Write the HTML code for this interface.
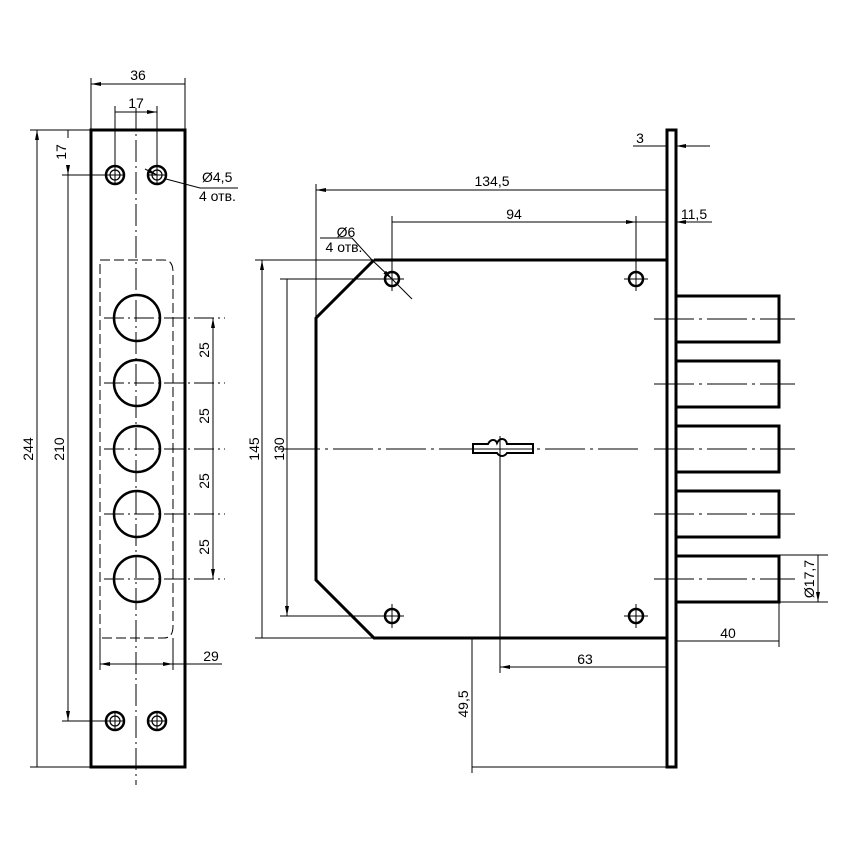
<!DOCTYPE html>
<html><head><meta charset="utf-8"><style>body{margin:0;background:#fff}svg{display:block}text{font-family:"Liberation Sans",sans-serif;font-size:14px;fill:#000}</style></head><body>
<svg width="848" height="848" viewBox="0 0 848 848" xmlns="http://www.w3.org/2000/svg">
<defs><marker id="a" viewBox="0 0 10 4" refX="10" refY="2" markerWidth="10" markerHeight="4" orient="auto-start-reverse" markerUnits="userSpaceOnUse"><path d="M0,0L10,2L0,4z" fill="#000"/></marker></defs>
<g fill="none" stroke="#000">
<rect x="91" y="130" width="94" height="637" stroke-width="3"/>
<line x1="136" y1="108" x2="136" y2="785" stroke-width="1" stroke-dasharray="22,4,2,4"/>
<path d="M100,638V260H164Q173,260 173,272V626Q173,638 164,638H100" stroke-width="1" stroke-dasharray="10,4"/>
<g stroke-width="2.5">
<circle cx="115" cy="175" r="9"/><circle cx="157" cy="175" r="9"/><circle cx="115" cy="721" r="9"/><circle cx="157" cy="721" r="9"/></g>
<g stroke-width="1.2"><circle cx="115" cy="175" r="5"/><circle cx="157" cy="175" r="5"/><circle cx="115" cy="721" r="5"/><circle cx="157" cy="721" r="5"/></g>
<g stroke-width="2.5">
<circle cx="137" cy="318" r="23"/><circle cx="137" cy="383" r="23"/><circle cx="137" cy="449" r="23"/><circle cx="137" cy="514" r="23"/><circle cx="137" cy="579" r="23"/></g>
<g stroke-width="1">
<path d="M104,318H225M104,383H225M104,449H225M104,514H225M104,579H225" stroke-dasharray="20,4,2,4"/>
<path d="M213,318V383M213,383V449M213,449V514M213,514V579" marker-start="url(#a)" marker-end="url(#a)"/>
<path d="M91,130V78M185,130V78M115,175V106M157,175V106"/>
<path d="M91,84H185M115,112H157" marker-start="url(#a)" marker-end="url(#a)"/>
<path d="M30,130H91M30,767H91M62,175H106M62,721H106"/>
<path d="M37,130V767M68,175V721" marker-start="url(#a)" marker-end="url(#a)"/>
<path d="M68,138V130M68,167V175" marker-end="url(#a)"/>
<path d="M100,638V670M173,638V670"/>
<path d="M100,664H173" marker-start="url(#a)" marker-end="url(#a)"/><path d="M173,664H222"/>
<path d="M145,169L157,175" marker-end="url(#a)"/>
<path d="M166,179L200,188H238"/>
<path d="M106,175H124M148,175H166M106,721H124M148,721H166M115,166V184M157,166V184M115,712V730M157,712V730"/>
</g>
<path d="M374,260H667M667,638H374L316,580V318L374,260" stroke-width="3"/>
<rect x="667" y="130" width="9" height="637" stroke-width="3"/>
<g stroke-width="3">
<rect x="676" y="296" width="103" height="46"/><rect x="676" y="361" width="103" height="46"/><rect x="676" y="426" width="103" height="46"/><rect x="676" y="491" width="103" height="46"/><rect x="676" y="556" width="103" height="46"/></g>
<g stroke-width="2.5"><circle cx="392" cy="279" r="7"/><circle cx="636" cy="279" r="7"/><circle cx="392" cy="616" r="7"/><circle cx="636" cy="616" r="7"/></g>
<path d="M473,444H488q2,-4 5,-4q3,0 4,3q2,-4 5,-4q4,0 5,5H533V453H507q-2,3 -5,3q-3,0 -5,-3H473Z" stroke-width="2"/>
<line x1="477" y1="449" x2="530" y2="449" stroke-width="1"/>
<g stroke-width="1">
<path d="M280,449H640" stroke-dasharray="40,5,3,5"/>
<path d="M500,436V465M654,319H795M654,384H795M654,449H795M654,514H795M654,579H795" stroke-dasharray="40,5,3,5"/>
<path d="M380,279H404M392,267V291M624,279H648M636,267V291M380,616H404M392,604V628M624,616H648M636,604V628"/>
<path d="M316,318V184M392,267V216M636,267V216M667,130V140M676,130V140"/>
<path d="M316,190H667M392,222H636" marker-start="url(#a)" marker-end="url(#a)"/>
<path d="M656,222H667M687,222H676" marker-end="url(#a)"/><path d="M676,222H712M636,222H656"/>
<path d="M633,146H667M710,146H676" marker-end="url(#a)"/><path d="M633,146H650"/>
<path d="M352,238L372,260L392,279" marker-end="url(#a)"/><path d="M320,238H352M392,279L412,299"/>
<path d="M255,260H374M280,279H392M255,638H374M280,616H392"/>
<path d="M262,260V638M287,279V616" marker-start="url(#a)" marker-end="url(#a)"/>
<path d="M500,449V673M472,638V773M472,767H667M779,602V647M779,555H828M779,602H828"/>
<path d="M500,667H667M472,638V767M676,641H779M818,555V602" marker-start="url(#a)" marker-end="url(#a)"/>
</g>
</g>
<text x="138" y="80" text-anchor="middle">36</text>
<text x="136" y="108" text-anchor="middle">17</text>
<text x="202" y="182">Ø4,5</text>
<text x="199" y="201">4 отв.</text>
<text x="66" y="152" text-anchor="middle" transform="rotate(-90 66 152)">17</text>
<text x="33" y="449" text-anchor="middle" transform="rotate(-90 33 449)">244</text>
<text x="64" y="449" text-anchor="middle" transform="rotate(-90 64 449)">210</text>
<text x="209" y="350" text-anchor="middle" transform="rotate(-90 209 350)">25</text>
<text x="209" y="416" text-anchor="middle" transform="rotate(-90 209 416)">25</text>
<text x="209" y="481" text-anchor="middle" transform="rotate(-90 209 481)">25</text>
<text x="209" y="547" text-anchor="middle" transform="rotate(-90 209 547)">25</text>
<text x="211" y="661" text-anchor="middle">29</text>
<text x="640" y="143" text-anchor="middle">3</text>
<text x="492" y="186" text-anchor="middle">134,5</text>
<text x="514" y="219" text-anchor="middle">94</text>
<text x="694" y="219" text-anchor="middle">11,5</text>
<text x="346" y="237" text-anchor="middle">Ø6</text>
<text x="344" y="252" text-anchor="middle">4 отв.</text>
<text x="259" y="449" text-anchor="middle" transform="rotate(-90 259 449)">145</text>
<text x="284" y="449" text-anchor="middle" transform="rotate(-90 284 449)">130</text>
<text x="585" y="664" text-anchor="middle">63</text>
<text x="468" y="704" text-anchor="middle" transform="rotate(-90 468 704)">49,5</text>
<text x="728" y="638" text-anchor="middle">40</text>
<text x="814" y="579" text-anchor="middle" transform="rotate(-90 814 579)">Ø17,7</text>
</svg>
</body></html>
